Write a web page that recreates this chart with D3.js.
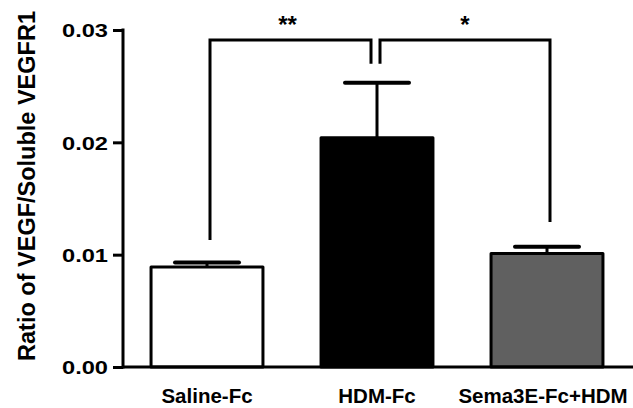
<html>
<head>
<meta charset="utf8">
<title>VEGF ratio</title>
<style>
body { margin:0; background:white; }
svg { display:block; }
text { font-family: Arial, "Liberation Sans", sans-serif; font-weight:bold; }
</style>
<script src="https://d3js.org/d3.v7.min.js"></script>
</head>
<body>
<div id="chart"></div>
<script>
var width = 633; // canvas width
var height = 408; // canvas height

// data
var categories = ["Saline-Fc", "HDM-Fc", "Sema3E-Fc+HDM"];
var means = [0.0089, 0.0204, 0.0101];
var sems = [0.0004, 0.0049, 0.0006];
var fills = ["white", "black", "#606060"];
var yTicks = [0.00, 0.01, 0.02, 0.03];
var yTickLabels = ["0.00", "0.01", "0.02", "0.03"];
var yTitle = "Ratio of VEGF/Soluble VEGFR1";

// significance brackets (levels in data units)
var brFrom = [0, 1];
var brTo = [1, 2];
var brLabel = ["**", "*"];
var brTop = [0.0291, 0.0291];
var brDropFrom = [0.0113, 0.0270];
var brDropTo = [0.0270, 0.0129];

var x = d3.scaleBand()
  .domain(categories)
  .range([122, 632])
  .paddingInner(0.324)
  .paddingOuter(0.162);

var y = d3.scaleLinear()
  .domain([0, 0.03])
  .range([367, 30]);

var svg = d3.select("#chart")
  .append("svg")
  .attr("width", width)
  .attr("height", height);

// bars
svg.selectAll(".bar")
  .data(categories)
  .enter().append("rect")
  .attr("x", function(d) { return x(d) + 1.5; })
  .attr("y", function(d, i) { return y(means[i]); })
  .attr("width", x.bandwidth() - 3)
  .attr("height", function(d, i) { return y(0) - y(means[i]); })
  .attr("fill", function(d, i) { return fills[i]; })
  .attr("stroke", "black")
  .attr("stroke-width", 3)
  .attr("stroke-linejoin", "round");

// error bars
var cx = function(i) { return x(categories[i]) + x.bandwidth() / 2; };
for (var i = 0; i < categories.length; i++) {
  svg.append("line")
    .attr("x1", cx(i)).attr("x2", cx(i))
    .attr("y1", y(means[i])).attr("y2", y(means[i] + sems[i]))
    .attr("stroke", "black").attr("stroke-width", 3);
  svg.append("line")
    .attr("x1", cx(i) - 32).attr("x2", cx(i) + 32)
    .attr("y1", y(means[i] + sems[i])).attr("y2", y(means[i] + sems[i]))
    .attr("stroke", "black").attr("stroke-width", 4)
    .attr("stroke-linecap", "round");
}

// axes
var yAxis = svg.append("g")
  .attr("transform", "translate(123,0)")
  .call(d3.axisLeft(y).tickValues(yTicks).tickSize(10).tickPadding(5)
    .tickFormat(function(d, i) { return yTickLabels[i]; }));
yAxis.select(".domain").remove();
yAxis.selectAll(".tick line").attr("stroke", "black").attr("stroke-width", 3);
yAxis.selectAll(".tick text")
  .attr("font-size", 19)
  .attr("fill", "black")
  .attr("font-family", null)
  .attr("textLength", 46)
  .attr("lengthAdjust", "spacingAndGlyphs")
  .attr("dy", "0.36em");

svg.append("line")
  .attr("x1", 123).attr("x2", 123)
  .attr("y1", y(0.03) - 1.5).attr("y2", y(0) + 1.5)
  .attr("stroke", "black").attr("stroke-width", 3);
svg.append("line")
  .attr("x1", 123).attr("x2", width)
  .attr("y1", y(0)).attr("y2", y(0))
  .attr("stroke", "black").attr("stroke-width", 3);

// x labels (last one nudged left so it stays inside the frame)
svg.selectAll(".xlab")
  .data(categories)
  .enter().append("text")
  .attr("x", function(d, i) { return cx(i); })
  .attr("dx", function(d, i) { return i == categories.length - 1 ? -4 : 0; })
  .attr("y", 403)
  .attr("text-anchor", "middle")
  .attr("font-size", 20.5)
  .text(function(d) { return d; });

// y title
svg.append("text")
  .attr("transform", "translate(35,186) rotate(-90)")
  .attr("text-anchor", "middle")
  .attr("font-size", 23.5)
  .text(yTitle);

// brackets
for (var j = 0; j < brFrom.length; j++) {
  var xa = cx(brFrom[j]) + 3;
  var xb = cx(brTo[j]) + (j == 0 ? -6 : 3);
  svg.append("path")
    .attr("d", "M" + xa + "," + y(brDropFrom[j]) + "V" + y(brTop[j]) +
               "H" + xb + "V" + y(brDropTo[j]))
    .attr("fill", "none")
    .attr("stroke", "black")
    .attr("stroke-width", 3);
  svg.append("text")
    .attr("x", (xa + xb) / 2 + (j == 0 ? -3 : 0))
    .attr("y", 33)
    .attr("text-anchor", "middle")
    .attr("font-size", 24)
    .text(brLabel[j]);
}
</script>
</body>
</html>
